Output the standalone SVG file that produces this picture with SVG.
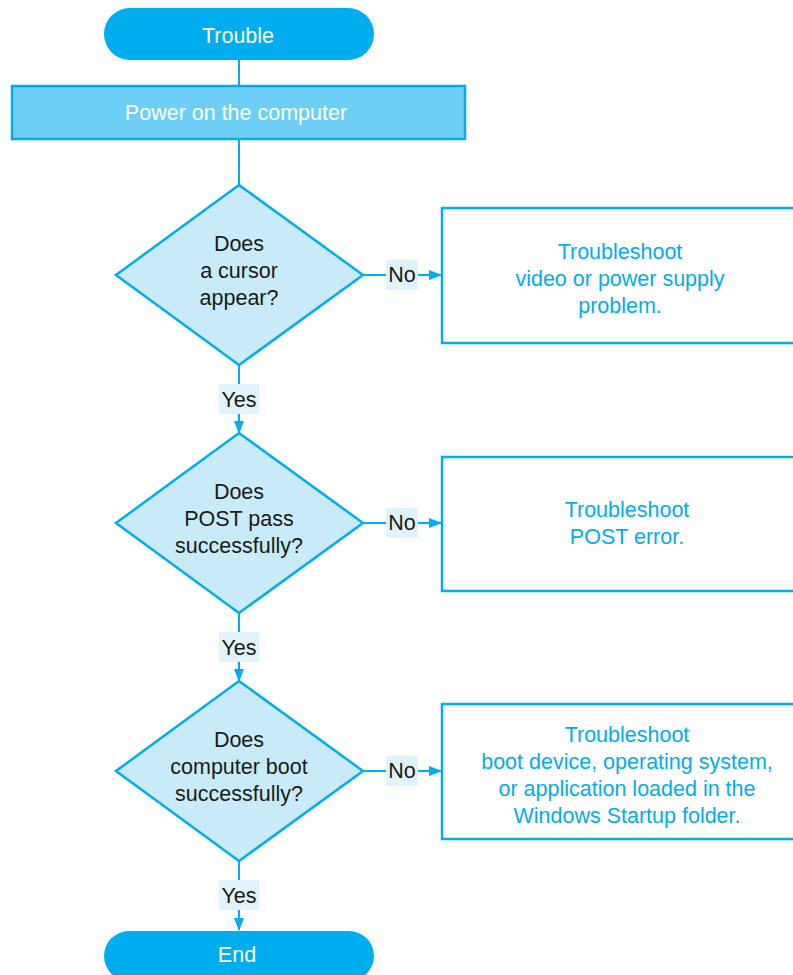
<svg xmlns="http://www.w3.org/2000/svg" width="793" height="975" viewBox="0 0 793 975">
<style>
text{font-family:"Liberation Sans",Arial,sans-serif;font-size:21.5px;text-anchor:middle}
.pill{fill:#00aeef}
.wt{fill:#ffffff}
.dia{fill:#c8eaf9;stroke:#00aeef;stroke-width:2.5}
.box{fill:#ffffff;stroke:#00aeef;stroke-width:2.5}
.bt{fill:#00aeef}
.dt{fill:#1a1a1a}
.lbg{fill:#e1f3fc}
.ln{stroke:#00aeef;stroke-width:2;fill:none}
</style>
<defs>
<marker id="ah" markerWidth="13" markerHeight="10" refX="12" refY="5" orient="auto" markerUnits="userSpaceOnUse">
<path d="M0,0 L13,5 L0,10 Z" fill="#00aeef"/>
</marker>
</defs>
<g id="connectors">
<line class="ln" x1="239" y1="60" x2="239" y2="86"/>
<line class="ln" x1="239" y1="139" x2="239" y2="185"/>
<line class="ln" x1="239" y1="365" x2="239" y2="433" marker-end="url(#ah)"/>
<line class="ln" x1="239" y1="613" x2="239" y2="681" marker-end="url(#ah)"/>
<line class="ln" x1="239" y1="861" x2="239" y2="930" marker-end="url(#ah)"/>
<line class="ln" x1="363" y1="275" x2="441" y2="275" marker-end="url(#ah)"/>
<line class="ln" x1="363" y1="523" x2="441" y2="523" marker-end="url(#ah)"/>
<line class="ln" x1="363" y1="771" x2="441" y2="771" marker-end="url(#ah)"/>
<rect class="lbg" x="219" y="384" width="40" height="30"/>
<text class="dt" x="239" y="407">Yes</text>
<rect class="lbg" x="219" y="632" width="40" height="30"/>
<text class="dt" x="239" y="655">Yes</text>
<rect class="lbg" x="219" y="880" width="40" height="30"/>
<text class="dt" x="239" y="903">Yes</text>
<rect class="lbg" x="386" y="260" width="32" height="30"/>
<text class="dt" x="402" y="282">No</text>
<rect class="lbg" x="386" y="508" width="32" height="30"/>
<text class="dt" x="402" y="530">No</text>
<rect class="lbg" x="386" y="756" width="32" height="30"/>
<text class="dt" x="402" y="778">No</text>
</g>
<g id="trouble">
<rect class="pill" x="104" y="8" width="270" height="52" rx="26"/>
<text class="wt" x="238" y="43">Trouble</text>
</g>
<g id="power">
<rect x="12" y="86" width="453" height="53" fill="#6dcff6" stroke="#00aeef" stroke-width="2.5"/>
<text class="wt" x="236" y="120">Power on the computer</text>
</g>
<g id="d1">
<polygon class="dia" points="239,185 363,275 239,365 116,275"/>
<text class="dt" x="239" y="251">Does</text>
<text class="dt" x="239" y="278">a cursor</text>
<text class="dt" x="239" y="305">appear?</text>
</g>
<g id="d2">
<polygon class="dia" points="239,433 363,523 239,613 116,523"/>
<text class="dt" x="239" y="499">Does</text>
<text class="dt" x="239" y="526">POST pass</text>
<text class="dt" x="239" y="553">successfully?</text>
</g>
<g id="d3">
<polygon class="dia" points="239,681 363,771 239,861 116,771"/>
<text class="dt" x="239" y="747">Does</text>
<text class="dt" x="239" y="774">computer boot</text>
<text class="dt" x="239" y="801">successfully?</text>
</g>
<g id="b1">
<rect class="box" x="442" y="208" width="360" height="135"/>
<text class="bt" x="620" y="259">Troubleshoot</text>
<text class="bt" x="620" y="286">video or power supply</text>
<text class="bt" x="620" y="313">problem.</text>
</g>
<g id="b2">
<rect class="box" x="442" y="457" width="360" height="134"/>
<text class="bt" x="627" y="517">Troubleshoot</text>
<text class="bt" x="627" y="544">POST error.</text>
</g>
<g id="b3">
<rect class="box" x="442" y="704" width="360" height="135"/>
<text class="bt" x="627" y="742">Troubleshoot</text>
<text class="bt" x="627" y="769">boot device, operating system,</text>
<text class="bt" x="627" y="796">or application loaded in the</text>
<text class="bt" x="627" y="823">Windows Startup folder.</text>
</g>
<g id="end">
<rect class="pill" x="104" y="931" width="270" height="50" rx="25"/>
<text class="wt" x="237" y="962">End</text>
</g>
</svg>
